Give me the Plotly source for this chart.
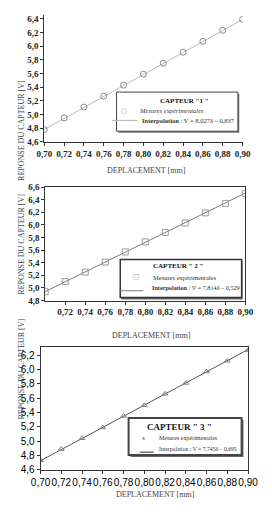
import plotly.graph_objects as go

W, H = 272, 512

x_mm = [0.70, 0.72, 0.74, 0.76, 0.78, 0.80, 0.82, 0.84, 0.86, 0.88, 0.90]
y_c1 = [4.78, 4.95, 5.11, 5.27, 5.43, 5.59, 5.75, 5.91, 6.07, 6.23, 6.39]
y_c2 = [4.94, 5.10, 5.25, 5.41, 5.57, 5.73, 5.88, 6.03, 6.19, 6.34, 6.50]
y_c3 = [4.73, 4.89, 5.04, 5.19, 5.35, 5.50, 5.66, 5.81, 5.97, 6.12, 6.27]

fit_x = [0.70, 0.90]
fit_c1 = [4.782, 6.387]
fit_c2 = [4.941, 6.504]
fit_c3 = [4.727, 6.276]

titles = ['CAPTEUR "1 "', 'CAPTEUR " 2 "', 'CAPTEUR " 3 "']
lbl_meas = "Mesures expérimentales"
lbl_fit = ["<b>Interpolation</b> : V = 8,027δ – 0,837",
           "<b>Interpolation</b> : V = 7,814δ – 0,529",
           "Interpolation : V = 7,745δ – 0,695"]
x_title = "DEPLACEMENT [mm]"
y_title = "REPONSE DU CAPTEUR [V]"

def px(v):
    return v / W

def py(v):
    return 1 - v / H

serif = "Liberation Serif, Times New Roman, DejaVu Serif, serif"
sans = "Liberation Sans, Arial, sans-serif"

col_line = ["#bdbdbd", "#7a7a7a", "#555555"]
col_mark = ["#8a8a8a", "#999999", "#808080"]

fig = go.Figure()

fig.add_trace(go.Scatter(x=fit_x, y=fit_c1, mode="lines", line=dict(color=col_line[0], width=1),
                         xaxis="x", yaxis="y", showlegend=False))
fig.add_trace(go.Scatter(x=x_mm, y=y_c1, mode="markers",
                         marker=dict(symbol="circle-open", size=6, color=col_mark[0], line=dict(width=1)),
                         xaxis="x", yaxis="y", showlegend=False))
fig.add_trace(go.Scatter(x=fit_x, y=fit_c2, mode="lines", line=dict(color=col_line[1], width=1),
                         xaxis="x2", yaxis="y2", showlegend=False))
fig.add_trace(go.Scatter(x=x_mm, y=y_c2, mode="markers",
                         marker=dict(symbol="square-open", size=6, color=col_mark[1], line=dict(width=1)),
                         xaxis="x2", yaxis="y2", showlegend=False))
fig.add_trace(go.Scatter(x=fit_x, y=fit_c3, mode="lines", line=dict(color=col_line[2], width=1),
                         xaxis="x3", yaxis="y3", showlegend=False))
fig.add_trace(go.Scatter(x=x_mm, y=y_c3, mode="markers",
                         marker=dict(symbol="triangle-up-open", size=5, color=col_mark[2], line=dict(width=1)),
                         xaxis="x3", yaxis="y3", showlegend=False))

tick_serif = dict(family=serif, size=9, color="#222", weight="bold")
tick_sans = dict(family=sans, size=10, color="#000")
ax_common = dict(showline=True, linecolor="#333", linewidth=1, ticks="outside", ticklen=3,
                 tickcolor="#333", showgrid=False, zeroline=False, fixedrange=True, tickangle=0)

x_ticks = x_mm
y_ticks1 = [4.6, 4.8, 5.0, 5.2, 5.4, 5.6, 5.8, 6.0, 6.2, 6.4]
y_ticks2 = [4.8, 5.0, 5.2, 5.4, 5.6, 5.8, 6.0, 6.2, 6.4, 6.6]
y_ticks3 = [4.6, 4.8, 5.0, 5.2, 5.4, 5.6, 5.8, 6.0, 6.2]

fig.update_layout(
    width=W, height=H, margin=dict(l=0, r=0, t=0, b=0),
    paper_bgcolor="white", plot_bgcolor="white", separators=", ", showlegend=False,
    xaxis=dict(ax_common, domain=[px(37), px(251)], range=[0.70, 0.90], anchor="y",
               tickvals=x_ticks, tickformat=".2f", tickfont=tick_serif),
    yaxis=dict(ax_common, domain=[py(140), py(10.5)], range=[4.6, 6.45], anchor="x",
               tickvals=y_ticks1, tickformat=".1f", tickfont=tick_serif),
    xaxis2=dict(ax_common, domain=[px(38), px(254)], range=[0.70, 0.90], anchor="y2", mirror=True,
                tickvals=x_ticks[1:], tickformat=".2f", tickfont=tick_serif),
    yaxis2=dict(ax_common, domain=[py(302), py(186)], range=[4.8, 6.6], anchor="x2", mirror=True,
                tickvals=y_ticks2, tickformat=".1f", tickfont=tick_serif),
    xaxis3=dict(ax_common, domain=[px(33), px(257)], range=[0.70, 0.90], anchor="y3", mirror=True,
                tickvals=x_ticks, tickformat=".2f", tickfont=tick_sans),
    yaxis3=dict(ax_common, domain=[py(475), py(350)], range=[4.6, 6.305], anchor="x3", mirror=True,
                tickvals=y_ticks3, tickformat=".1f", tickfont=tick_sans),
)

shapes = []
ann = []

def rect(x0, y0, x1, y1, **kw):
    shapes.append(dict(type="rect", xref="paper", yref="paper", layer="above",
                       x0=px(x0), x1=px(x1), y0=py(y1), y1=py(y0), **kw))

def hline(x0, x1, y, color, width):
    shapes.append(dict(type="line", xref="paper", yref="paper", layer="above",
                       x0=px(x0), x1=px(x1), y0=py(y), y1=py(y), line=dict(color=color, width=width)))

def text(t, x, y, size, anchor="left", family=serif, color="#333"):
    ann.append(dict(text=t, x=px(x), y=py(y), xref="paper", yref="paper", xanchor=anchor,
                    yanchor="middle", showarrow=False,
                    font=dict(family=family, size=size, color=color)))

# Legend box 1
rect(117, 91, 247.5, 130.5, fillcolor="#777", line=dict(width=0))
rect(115, 89, 246, 129, fillcolor="white", line=dict(color="#444", width=1))
text("<b>" + titles[0] + "</b>", 188, 98, 7, anchor="center", color="#111")
text("○", 123, 108, 7, anchor="center", color=col_mark[0], family="DejaVu Sans")
text("<i>" + lbl_meas + "</i>", 137, 108, 6.6)
hline(110, 138, 118, col_line[0], 1.2)
text(lbl_fit[0], 140, 118, 6.5)

# Legend box 2
rect(120, 262, 251, 301, fillcolor="#666", line=dict(width=0))
rect(119, 260, 250, 299, fillcolor="white", line=dict(color="#333", width=1.5))
text("<b>" + titles[1] + "</b>", 152, 267, 7, color="#111")
text("□", 136, 278, 7, anchor="center", color=col_mark[1], family="DejaVu Sans")
text(lbl_meas, 152, 278, 6.5)
hline(118, 144, 292, col_line[1], 1)
text(lbl_fit[1], 151, 289, 6.2)

# Legend box 3
rect(130, 424, 252, 462, fillcolor="#666", line=dict(width=0))
rect(128, 422, 250, 460, fillcolor="white", line=dict(color="#444", width=2))
text("<b>" + titles[2] + "</b>", 183, 431, 9, anchor="center", color="#111")
text("▲", 145, 442, 4, anchor="center", color="#888", family="DejaVu Sans")
text(lbl_meas, 159, 442, 6)
hline(140, 155, 457, col_line[2], 1.2)
text(lbl_fit[2], 159, 454, 5.7)

for xc, yc in [(147, 162), (153, 338), (157, 507)]:
    ann.append(dict(text=x_title, x=px(xc), y=py(yc), xref="paper", yref="paper",
                    showarrow=False, font=dict(family=serif, size=8, color="#444")))
for xc, yc in [(6, 75), (6, 245), (5, 426)]:
    ann.append(dict(text=y_title, x=px(xc), y=py(yc), xref="paper", yref="paper", textangle=-90,
                    showarrow=False, font=dict(family=serif, size=8, color="#444")))

fig.update_layout(shapes=shapes, annotations=ann)

fig.write_html("out.html")
